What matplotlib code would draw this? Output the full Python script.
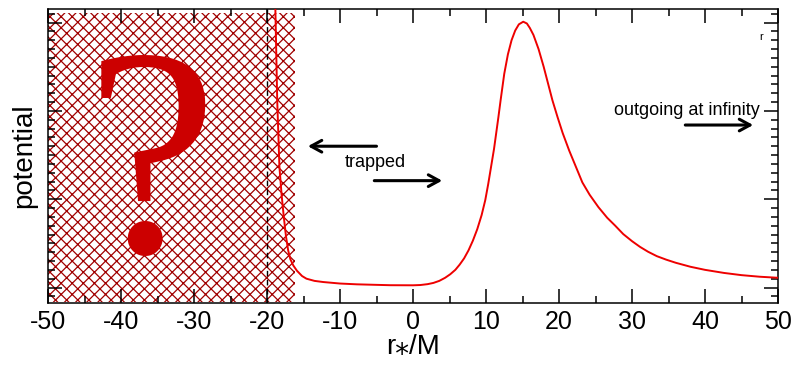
#!/usr/bin/env python3

import matplotlib
matplotlib.use("Agg")
import matplotlib.pyplot as plt
from matplotlib.patches import Rectangle
from matplotlib.ticker import MultipleLocator

# potential vs tortoise coordinate
r_star = [-18.95, -18.85, -18.6, -18.3, -18.0, -17.7, -17.4, -17.1, -16.8,
          -16.4, -15.9, -15.2, -14.6, -13.5, -12.3, -10.0, -7.7, -5.0, -3.1,
          0.0, 1.0, 2.0, 2.8, 3.6, 4.4, 5.1, 5.8, 6.4, 7.0, 7.6, 8.2, 8.8,
          9.4, 9.9, 10.3, 10.7, 11.1, 11.4, 11.7, 12.0, 12.5, 13.0, 13.5,
          14.0, 14.5, 15.1, 15.6, 16.0, 16.5, 17.2, 17.9, 18.5, 19.1, 19.8,
          20.5, 21.4, 22.3, 23.2, 24.2, 25.4, 26.6, 27.7, 28.8, 30.0, 31.1,
          32.2, 33.4, 34.7, 36.0, 38.0, 40.0, 42.6, 45.0, 47.5, 50.0]
V = [3.40, 3.14, 2.12, 1.37, 1.05, 0.80, 0.58, 0.42, 0.32,
     0.25, 0.19, 0.13, 0.10, 0.075, 0.062, 0.045, 0.036, 0.030, 0.026,
     0.025, 0.028, 0.038, 0.052, 0.075, 0.11, 0.15, 0.20, 0.26, 0.33, 0.42,
     0.53, 0.66, 0.82, 0.99, 1.17, 1.37, 1.57, 1.75, 1.93, 2.12, 2.42, 2.64,
     2.80, 2.91, 2.98, 3.01, 2.99, 2.94, 2.86, 2.70, 2.50, 2.31, 2.12, 1.93,
     1.75, 1.55, 1.37, 1.19, 1.05, 0.91, 0.79, 0.70, 0.605, 0.525, 0.46,
     0.405, 0.355, 0.315, 0.28, 0.235, 0.20, 0.165, 0.14, 0.122, 0.11]

x_ticks = [-50, -40, -30, -20, -10, 0, 10, 20, 30, 40, 50]
horizon = -20.0
unknown_region = (-50.0, -16.1)

plt.rcParams['font.family'] = ['Liberation Sans', 'DejaVu Sans']
plt.rcParams['hatch.linewidth'] = 0.9

fig = plt.figure(figsize=(7.95, 3.65), dpi=100)
ax = fig.add_axes([48 / 795, 1 - 303 / 365, 730 / 795, 294 / 365])

ax.set_xlim(-50, 50)
ax.set_ylim(-0.1755, 3.154)

# hatched region where the potential is not known
ax.add_patch(Rectangle((unknown_region[0], -0.164),
                       unknown_region[1] - unknown_region[0], 3.273,
                       fill=False, edgecolor='#a00000', lw=0, hatch='xxx',
                       zorder=1))
ax.axvline(horizon, color='black', ls=(0, (4, 2.5)), lw=1.0, zorder=2)
ax.plot(r_star, V, color='#ee0000', lw=1.4, zorder=3)

ax.text(-35.8, 0.40, '?', family='Liberation Serif', fontsize=213,
        color='#cc0000', ha='center', va='baseline', zorder=4)

arrow = dict(arrowstyle='->,head_length=0.55,head_width=0.3', lw=2.2,
             color='black', mutation_scale=14, shrinkA=0, shrinkB=0)
ax.annotate('', xy=(-14.4, 1.60), xytext=(-5.0, 1.60), arrowprops=arrow)
ax.annotate('', xy=(4.0, 1.21), xytext=(-5.3, 1.21), arrowprops=arrow)
ax.annotate('', xy=(46.6, 1.84), xytext=(37.3, 1.84), arrowprops=arrow)
ax.text(-5.2, 1.37, 'trapped', fontsize=13, ha='center', va='baseline')
ax.text(37.5, 1.95, 'outgoing at infinity', fontsize=13, ha='center',
        va='baseline')
ax.text(47.7, 2.80, 'r', fontsize=8, ha='center', va='baseline')

ax.set_xticks(x_ticks)
ax.set_xticklabels([str(t) for t in x_ticks])
ax.xaxis.set_minor_locator(MultipleLocator(5))
ax.yaxis.set_major_locator(MultipleLocator(1))
ax.yaxis.set_minor_locator(MultipleLocator(0.1))
ax.tick_params(which='both', direction='in', top=True, right=True,
               width=1.1, labelsize=18, pad=5)
ax.tick_params(which='major', length=10)
ax.tick_params(which='minor', length=5)
ax.tick_params(axis='y', labelleft=False)
for s in ax.spines.values():
    s.set_linewidth(1.1)

ax.set_xlabel('r\u204e/M', fontsize=20, labelpad=0)
ax.set_ylabel('potential', fontsize=20, labelpad=3)

fig.savefig('out.png', dpi=100)
